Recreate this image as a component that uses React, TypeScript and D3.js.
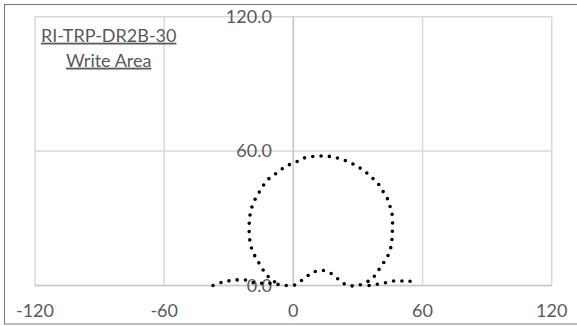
import React from "react";
import * as d3 from "d3";

const xTicks = [-120, -60, 0, 60, 120];
const yTicks = [0, 60, 120];
const yTickLabels = ["0.0", "60.0", "120.0"];
const titleLines = ["RI-TRP-DR2B-30", "Write Area"];

// left side lobe -> centre lobe -> main lobe (up the right side, over the top, down the left side)
const patternX = [
  -37.3, -33.3, -29.8, -26.1, -22.5, -19.4, -14.5, -11.4, -8.3, -5.2, 0,
  3.0, 6.1, 9.2, 13.1, 16.6, 19.7, 22.5, 25.8, 29.8,
  33.5, 36.6, 39.1, 41.2, 43.3, 44.8, 45.7, 45.9, 46.1, 45.7, 44.5, 43.3, 41.2, 39.1, 36.3, 33.5,
  30.4, 27.0, 23.5, 19.7, 16.2, 12.3, 8.4, 4.6, 1.2, -2.4, -5.5, -8.6, -11.7, -14.0, -16.0, -17.9,
  -19.4, -20.2, -20.5, -20.5, -20.2, -19.4, -17.9, -15.9, -14.0, -11.7, -9.0, -7.0,
];
const patternY = [
  0, 1.4, 2.1, 2.5, 2.5, 1.4, 1.0, 1.0, 0.7, 0.2, 0,
  1.7, 3.9, 5.9, 6.8, 5.9, 3.8, 1.4, 0, 0,
  1.3, 3.0, 6.2, 9.2, 12.1, 15.5, 19.1, 22.9, 26.6, 32.9, 36.4, 39.6, 42.6, 45.8, 48.3, 50.7,
  52.8, 54.6, 56.0, 57.1, 57.7, 57.8, 57.5, 56.8, 55.1, 53.7, 51.9, 49.6, 47.4, 44.6, 41.4, 38.2,
  34.6, 31.0, 27.5, 23.6, 20.0, 16.6, 13.2, 9.9, 6.9, 4.0, 1.8, 0.8,
];
// right side lobe
const rightX = [35.2, 38.6, 42.5, 46.4, 50.0, 53.7, 57.3];
const rightY = [0, 0.5, 1.2, 2.0, 2.0, 2.0, 0.7];

const W = 577;
const H = 326;
const font = "Lato, 'Liberation Sans', sans-serif";
const textColor = "#595959";

export default function App() {
  const x = d3.scaleLinear().domain([-120, 120]).range([35, 551.7]);
  const y = d3.scaleLinear().domain([0, 120]).range([285.5, 16.7]);
  const line = d3
    .line<[number, number]>()
    .x((d) => x(d[0]))
    .y((d) => y(d[1]))
    .curve(d3.curveCatmullRom.alpha(0.5));
  const series = [
    patternX.map((v, i) => [v, patternY[i]] as [number, number]),
    rightX.map((v, i) => [v, rightY[i]] as [number, number]),
  ];
  return (
    <svg
      width={W}
      height={H}
      style={{ position: "absolute", left: 0, top: 0, background: "#fff" }}
    >
      <rect x={0} y={0} width={W} height={H} fill="#fff" />
      <rect x={4.5} y={4.5} width={W + 10} height={319.5} fill="none" stroke="#767676" strokeWidth={1} />
      {xTicks.map((t) => (
        <line key={"gx" + t} x1={x(t)} x2={x(t)} y1={y(120)} y2={y(0)} stroke="#d9d9d9" strokeWidth={1.5} />
      ))}
      {yTicks.map((t) => (
        <line key={"gy" + t} x1={x(-120)} x2={x(120)} y1={y(t)} y2={y(t)} stroke="#d9d9d9" strokeWidth={1.5} />
      ))}
      <line x1={x(0)} x2={x(0)} y1={y(120)} y2={y(0)} stroke="#c8c8c8" strokeWidth={1.5} />
      <line x1={x(-120)} x2={x(120)} y1={y(0)} y2={y(0)} stroke="#c8c8c8" strokeWidth={1.5} />
      {yTicks.map((t, i) => (
        <text
          key={"ly" + t}
          x={x(0) - 21.5}
          y={y(t)}
          dy="0.35em"
          textAnchor="end"
          fontFamily={font}
          fontSize={18}
          fill={textColor}
        >
          {yTickLabels[i]}
        </text>
      ))}
      {xTicks.map((t) => (
        <text
          key={"lx" + t}
          x={x(t)}
          y={316.5}
          textAnchor="middle"
          fontFamily={font}
          fontSize={18}
          fill={textColor}
        >
          {t}
        </text>
      ))}
      {series.map((s, i) => (
        <path
          key={"s" + i}
          d={line(s) || ""}
          fill="none"
          stroke="#000"
          strokeWidth={3.6}
          strokeLinecap="round"
          strokeDasharray="0 8.3"
        />
      ))}
      {titleLines.map((t, i) => (
        <text
          key={"t" + i}
          x={108.7}
          y={41.7 + i * 25}
          textAnchor="middle"
          fontFamily={font}
          fontSize={18}
          fill={textColor}
          textDecoration="underline"
        >
          {t}
        </text>
      ))}
    </svg>
  );
}
